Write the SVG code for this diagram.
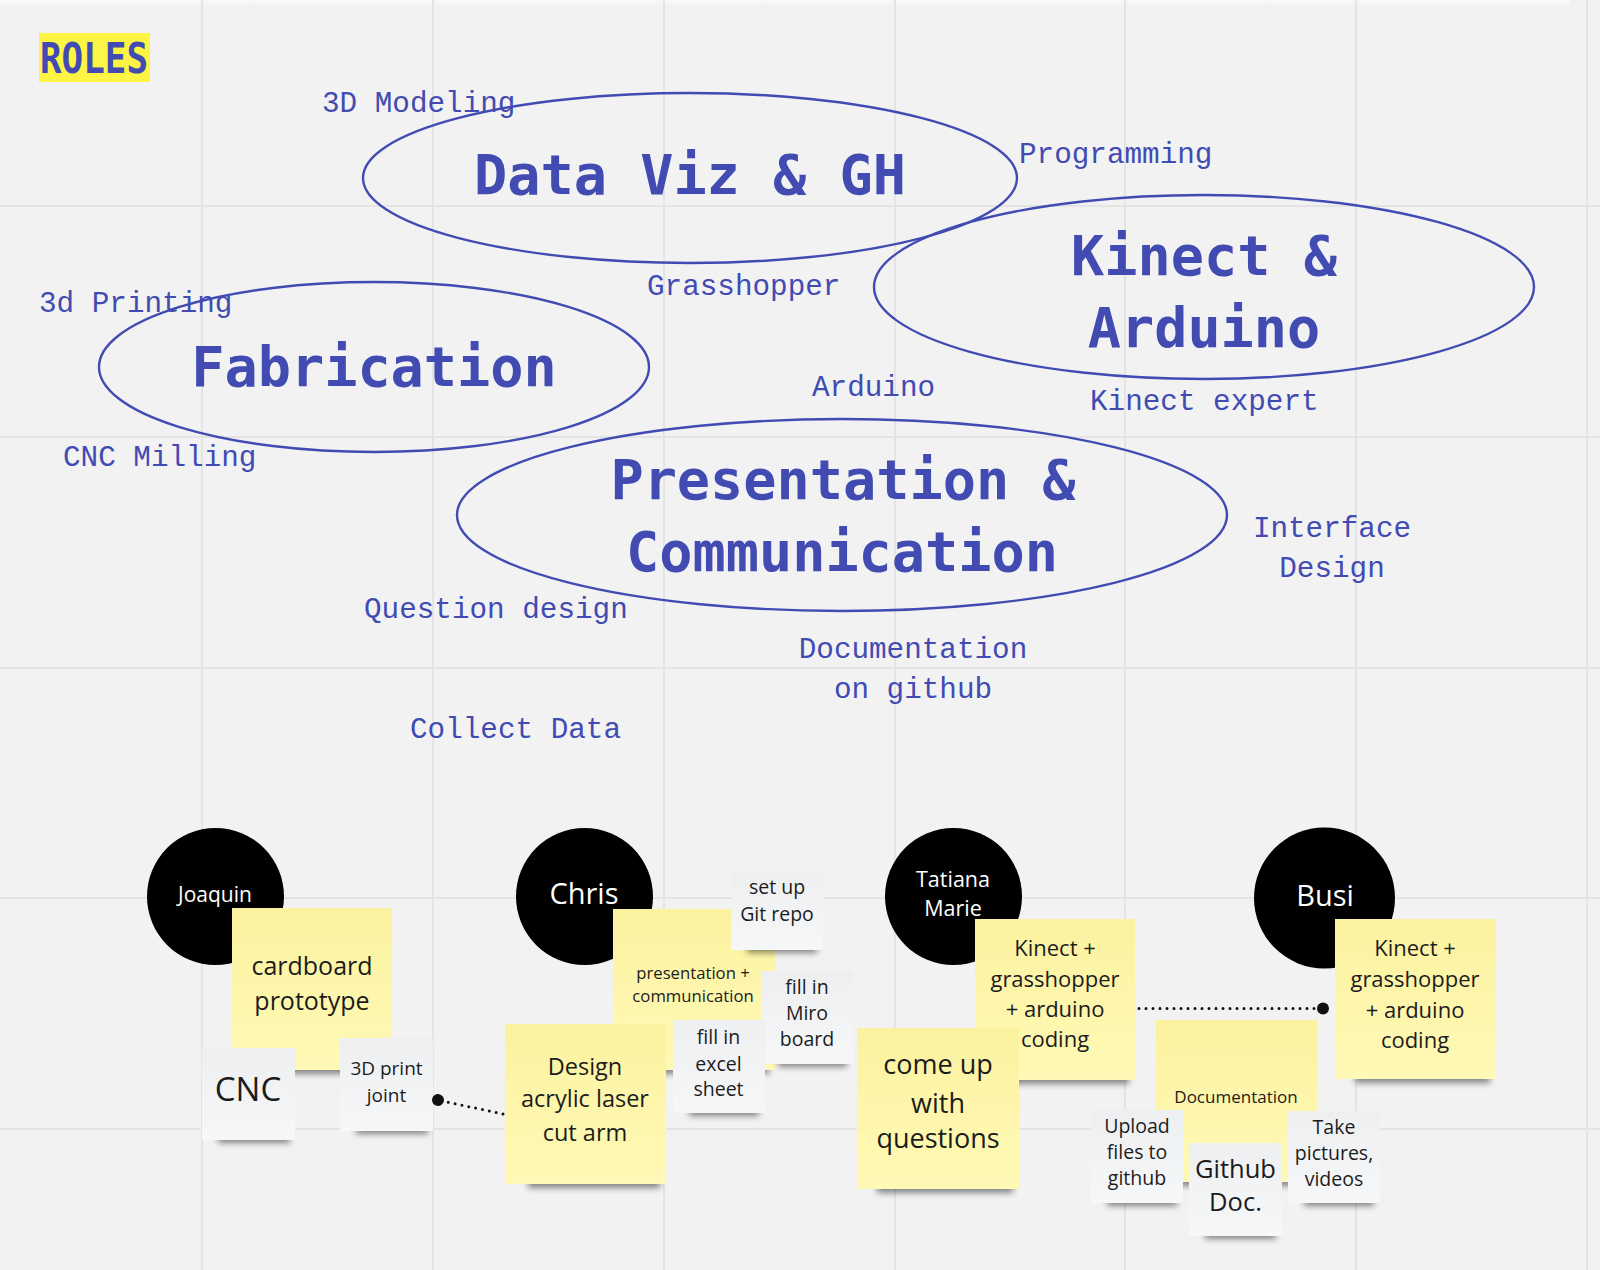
<svg xmlns="http://www.w3.org/2000/svg" width="1600" height="1270" viewBox="0 0 1600 1270">
<defs>
<style>
.grid{stroke:#e4e4e4;stroke-width:2}
.oval{fill:none;stroke:#414bb2;stroke-width:2.4}
.big{font-family:"DejaVu Sans Mono","Liberation Mono",monospace;font-weight:bold;font-size:55.2px;fill:#414bb2;text-anchor:middle}
.lbl{font-family:"Liberation Mono","DejaVu Sans Mono",monospace;font-size:29.3px;fill:#414bb2}
.lblc{text-anchor:middle}
.name{font-family:"Open Sans","Noto Sans",sans-serif;fill:#ffffff;text-anchor:middle}
.st{font-family:"Open Sans","Noto Sans",sans-serif;fill:#1c1c1c;text-anchor:middle}
.yel{fill:url(#gy)}
.gry{fill:url(#gg)}
.shd{fill:#000;opacity:0.45;filter:url(#blur)}
.dots{fill:none;stroke:#111;stroke-width:3;stroke-linecap:round;stroke-dasharray:0 7}
</style>
<linearGradient id="gy" x1="0" y1="0" x2="0" y2="1">
<stop offset="0" stop-color="#fbf29f"/>
<stop offset="1" stop-color="#fff9b6"/>
</linearGradient>
<linearGradient id="gg" x1="0" y1="0" x2="0" y2="1">
<stop offset="0" stop-color="#eeeff1"/>
<stop offset="1" stop-color="#f6f7f9"/>
</linearGradient>
<linearGradient id="topsh" x1="0" y1="0" x2="0" y2="1">
<stop offset="0" stop-color="#fafafa"/>
<stop offset="1" stop-color="#f2f2f2"/>
</linearGradient>
<filter id="blur" x="-20%" y="-100%" width="140%" height="300%">
<feGaussianBlur stdDeviation="3"/>
</filter>
<marker id="dot" markerUnits="userSpaceOnUse" markerWidth="16" markerHeight="16" refX="8" refY="8" orient="auto">
<circle cx="8" cy="8" r="6" fill="#111"/>
</marker>
</defs>

<rect x="0" y="0" width="1600" height="1270" fill="#f2f2f2"/>
<rect x="0" y="0" width="1570" height="6" fill="url(#topsh)"/>
<g id="grid">
<line class="grid" x1="202" y1="0" x2="202" y2="1270"/>
<line class="grid" x1="433" y1="0" x2="433" y2="1270"/>
<line class="grid" x1="664" y1="0" x2="664" y2="1270"/>
<line class="grid" x1="895" y1="0" x2="895" y2="1270"/>
<line class="grid" x1="1125" y1="0" x2="1125" y2="1270"/>
<line class="grid" x1="1356" y1="0" x2="1356" y2="1270"/>
<line class="grid" x1="1587" y1="0" x2="1587" y2="1270"/>
<line class="grid" x1="0" y1="206" x2="1600" y2="206"/>
<line class="grid" x1="0" y1="437" x2="1600" y2="437"/>
<line class="grid" x1="0" y1="668" x2="1600" y2="668"/>
<line class="grid" x1="0" y1="898" x2="1600" y2="898"/>
<line class="grid" x1="0" y1="1129" x2="1600" y2="1129"/>
</g>

<g id="title">
<rect x="39" y="33" width="111" height="49" fill="#fef445"/>
<text x="40" y="73" font-family="DejaVu Sans Mono, Liberation Mono, monospace" font-weight="bold" font-size="42" fill="#414bb2" textLength="108" lengthAdjust="spacingAndGlyphs">ROLES</text>
</g>

<g id="role-dataviz">
<ellipse class="oval" cx="690" cy="178" rx="327" ry="85"/>
<text class="big" x="690" y="194">Data Viz &amp; GH</text>
</g>
<g id="role-kinect">
<ellipse class="oval" cx="1204" cy="287" rx="330" ry="92"/>
<text class="big" x="1204" y="275">Kinect &amp;</text>
<text class="big" x="1204" y="347">Arduino</text>
</g>
<g id="role-fabrication">
<ellipse class="oval" cx="374" cy="367" rx="275" ry="85"/>
<text class="big" x="374" y="386">Fabrication</text>
</g>
<g id="role-presentation">
<ellipse class="oval" cx="842" cy="515" rx="385" ry="96"/>
<text class="big" x="843" y="499">Presentation &amp;</text>
<text class="big" x="842" y="571">Communication</text>
</g>

<g id="labels">
<text class="lbl" x="322" y="112">3D Modeling</text>
<text class="lbl" x="1019" y="163">Programming</text>
<text class="lbl" x="647" y="295">Grasshopper</text>
<text class="lbl" x="39" y="312">3d Printing</text>
<text class="lbl" x="812" y="396">Arduino</text>
<text class="lbl" x="1090" y="410">Kinect expert</text>
<text class="lbl" x="63" y="466">CNC Milling</text>
<text class="lbl lblc" x="1332" y="537">Interface</text>
<text class="lbl lblc" x="1332" y="577">Design</text>
<text class="lbl" x="364" y="618">Question design</text>
<text class="lbl lblc" x="913" y="658">Documentation</text>
<text class="lbl lblc" x="913" y="698">on github</text>
<text class="lbl" x="410" y="738">Collect Data</text>
</g>

<g id="joaquin">
<circle cx="215.5" cy="896.5" r="68.5" fill="#000"/>
<text class="name" x="215" y="902" font-size="21">Joaquin</text>
</g>
<g id="note-cardboard">
<rect class="shd" x="252" y="1062" width="134" height="12"/>
<rect class="yel" x="232" y="908" width="160" height="162"/>
<text class="st" x="312" y="975" font-size="25">cardboard</text>
<text class="st" x="312" y="1010" font-size="25">prototype</text>
</g>
<g id="note-cnc">
<rect class="shd" x="218" y="1132" width="72" height="11"/>
<rect class="gry" x="202" y="1048" width="93" height="92"/>
<text class="st" x="248" y="1101" font-size="33">CNC</text>
</g>
<g id="note-3dprint">
<rect class="shd" x="356" y="1123" width="72" height="11"/>
<rect class="gry" x="340" y="1038" width="93" height="93"/>
<text class="st" x="386.5" y="1075" font-size="19">3D print</text>
<text class="st" x="386.5" y="1102" font-size="19">joint</text>
</g>

<g id="chris">
<circle cx="584.5" cy="896.5" r="68.5" fill="#000"/>
<text class="name" x="584" y="904" font-size="29">Chris</text>
</g>
<g id="note-presentation">
<rect class="shd" x="633" y="1062" width="136" height="12"/>
<rect class="yel" x="613" y="909" width="162" height="161"/>
<text class="st" x="693" y="979" font-size="16.7">presentation +</text>
<text class="st" x="693" y="1002" font-size="16.7">communication</text>
</g>
<g id="note-gitrepo">
<rect class="shd" x="747" y="942" width="70" height="11"/>
<rect class="gry" x="731" y="872" width="92" height="78"/>
<text class="st" x="777" y="894" font-size="19.5">set up</text>
<text class="st" x="777" y="921" font-size="19.5">Git repo</text>
</g>
<g id="note-miro">
<rect class="shd" x="778" y="1056" width="69" height="11"/>
<rect class="gry" x="762" y="971" width="91" height="93"/>
<text class="st" x="807" y="994" font-size="19.5">fill in</text>
<text class="st" x="807" y="1020" font-size="19.5">Miro</text>
<text class="st" x="807" y="1046" font-size="19.5">board</text>
</g>
<g id="note-excel">
<rect class="shd" x="689" y="1105" width="70" height="11"/>
<rect class="gry" x="673" y="1020" width="92" height="93"/>
<text class="st" x="718.5" y="1044" font-size="19.5">fill in</text>
<text class="st" x="718.5" y="1071" font-size="19.5">excel</text>
<text class="st" x="718.5" y="1096" font-size="19.5">sheet</text>
</g>
<g id="note-design">
<rect class="shd" x="528" y="1176" width="132" height="12"/>
<rect class="yel" x="505" y="1024" width="161" height="160"/>
<text class="st" x="585" y="1075" font-size="23.5">Design</text>
<text class="st" x="585" y="1107" font-size="23.5">acrylic laser</text>
<text class="st" x="585" y="1141" font-size="23.5">cut arm</text>
</g>

<g id="tatiana">
<circle cx="953.5" cy="896.5" r="68.5" fill="#000"/>
<text class="name" x="953" y="887" font-size="21.5">Tatiana</text>
<text class="name" x="953" y="916" font-size="21.5">Marie</text>
</g>
<g id="note-kinect-t">
<rect class="shd" x="995" y="1072" width="134" height="12"/>
<rect class="yel" x="975" y="919" width="160" height="161"/>
<text class="st" x="1055" y="956" font-size="22">Kinect +</text>
<text class="st" x="1055" y="987" font-size="22">grasshopper</text>
<text class="st" x="1055" y="1017" font-size="22">+ arduino</text>
<text class="st" x="1055" y="1047" font-size="22">coding</text>
</g>
<g id="note-questions">
<rect class="shd" x="877" y="1181" width="136" height="12"/>
<rect class="yel" x="857" y="1028" width="162" height="161"/>
<text class="st" x="938" y="1074" font-size="27">come up</text>
<text class="st" x="938" y="1113" font-size="27">with</text>
<text class="st" x="938" y="1148" font-size="27">questions</text>
</g>

<g id="busi">
<circle cx="1324.5" cy="898" r="70.5" fill="#000"/>
<text class="name" x="1325" y="906" font-size="29">Busi</text>
</g>
<g id="note-kinect-b">
<rect class="shd" x="1355" y="1071" width="135" height="12"/>
<rect class="yel" x="1335" y="919" width="161" height="160"/>
<text class="st" x="1415" y="956" font-size="22">Kinect +</text>
<text class="st" x="1415" y="987" font-size="22">grasshopper</text>
<text class="st" x="1415" y="1018" font-size="22">+ arduino</text>
<text class="st" x="1415" y="1048" font-size="22">coding</text>
</g>
<g id="note-documentation">
<rect class="shd" x="1176" y="1174" width="135" height="12"/>
<rect class="yel" x="1156" y="1020" width="161" height="162"/>
<text class="st" x="1236" y="1103" font-size="17">Documentation</text>
</g>
<g id="note-upload">
<rect class="shd" x="1107" y="1195" width="70" height="11"/>
<rect class="gry" x="1091" y="1110" width="92" height="93"/>
<text class="st" x="1137" y="1133" font-size="19.5">Upload</text>
<text class="st" x="1137" y="1159" font-size="19.5">files to</text>
<text class="st" x="1137" y="1185" font-size="19.5">github</text>
</g>
<g id="note-githubdoc">
<rect class="shd" x="1205" y="1228" width="71" height="11"/>
<rect class="gry" x="1189" y="1143" width="93" height="93"/>
<text class="st" x="1235.5" y="1178" font-size="25.5">Github</text>
<text class="st" x="1235.5" y="1211" font-size="25.5">Doc.</text>
</g>
<g id="note-pictures">
<rect class="shd" x="1304" y="1195" width="70" height="11"/>
<rect class="gry" x="1288" y="1111" width="92" height="92"/>
<text class="st" x="1334" y="1134" font-size="19.5">Take</text>
<text class="st" x="1334" y="1160" font-size="19.5">pictures,</text>
<text class="st" x="1334" y="1186" font-size="19.5">videos</text>
</g>

<g id="connectors">
<path class="dots" d="M 503 1114 L 438 1100" marker-end="url(#dot)"/>
<path class="dots" d="M 1139 1008.5 L 1323 1008.5" marker-end="url(#dot)"/>
</g>
</svg>
